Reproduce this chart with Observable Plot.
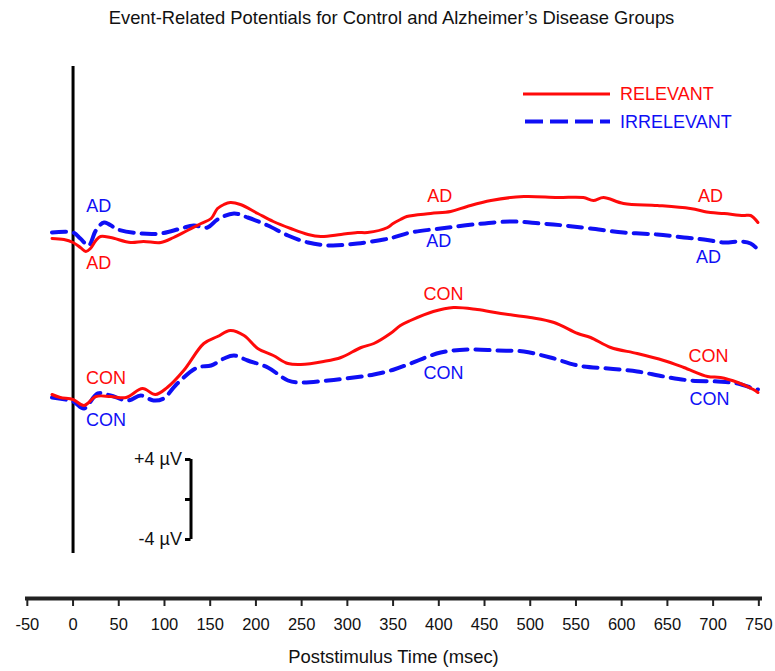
<!DOCTYPE html>
<html>
<head>
<meta charset="utf-8">
<script src="https://cdn.jsdelivr.net/npm/d3@7"></script>
<script src="https://cdn.jsdelivr.net/npm/@observablehq/plot@0.6"></script>
<style>
  body { margin: 0; background: #fff; font-family: "Liberation Sans", Arial, sans-serif; }
  #wrap { position: relative; width: 775px; height: 671px; overflow: hidden; }
  #title { position: absolute; left: 4px; top: 8px; width: 775px; text-align: center; font-size: 18.4px; line-height: 20px; color: #111; }
  #xlabel { position: absolute; left: 25px; top: 647px; width: 737px; text-align: center; font-size: 18.4px; line-height: 20px; color: #111; }
  #legend { position: absolute; left: 515px; top: 75px; }
</style>
</head>
<body>
<div id="wrap">
  <div id="chart"></div>
  <div id="title"></div>
  <div id="xlabel"></div>
  <div id="legend"></div>
</div>
<script>
// ---------- text ----------
const titleText = "Event-Related Potentials for Control and Alzheimer’s Disease Groups";
const xLabelText = "Poststimulus Time (msec)";
const legendLabels = ["RELEVANT", "IRRELEVANT"];
const xTicks = [-50, 0, 50, 100, 150, 200, 250, 300, 350, 400, 450, 500, 550, 600, 650, 700, 750];

// ---------- data (µV relative to each group's baseline; time in msec) ----------
const adRelevantTime = [-23, -10, 0, 8, 14, 19, 25, 30, 41, 63, 77, 96, 110, 125, 140, 151, 158, 165, 172, 183, 202, 219, 238, 257, 271, 293, 311, 322, 344, 350, 358, 365, 391, 413, 431, 457, 493, 530, 558, 569, 580, 602, 639, 675, 697, 712, 733, 741, 749];
const adRelevantUv   = [-0.3, -0.4, -0.7, -1.2, -1.6, -1.3, -0.5, -0.1, -0.2, -0.7, -0.6, -0.7, -0.2, 0.5, 1.2, 1.7, 2.7, 3.1, 3.3, 3.1, 2.2, 1.4, 0.7, 0.1, -0.1, 0.1, 0.3, 0.3, 0.8, 1.2, 1.6, 1.9, 2.2, 2.4, 2.9, 3.5, 3.9, 3.8, 3.8, 3.5, 3.8, 3.2, 3.0, 2.7, 2.3, 2.2, 2.0, 2.0, 1.3];

const adIrrelevantTime = [-23, 0, 8, 17, 25, 34, 49, 74, 96, 118, 132, 147, 158, 176, 191, 213, 235, 257, 282, 311, 340, 350, 369, 402, 438, 479, 511, 537, 566, 602, 639, 668, 690, 712, 730, 741, 749];
const adIrrelevantUv   = [0.3, 0.3, -0.3, -1.0, 0.5, 1.3, 0.6, 0.2, 0.2, 0.7, 1.0, 0.8, 1.6, 2.2, 1.8, 1.0, 0.0, -0.7, -1.0, -0.8, -0.4, -0.2, 0.3, 0.7, 1.1, 1.4, 1.2, 1.0, 0.7, 0.3, 0.1, -0.2, -0.4, -0.7, -0.6, -0.8, -1.4];

const conRelevantTime = [-23, -14, 0, 12, 25, 41, 58, 76, 90, 103, 121, 143, 158, 172, 187, 202, 219, 235, 249, 274, 293, 315, 329, 347, 358, 369, 394, 416, 442, 468, 500, 526, 552, 566, 588, 617, 646, 668, 694, 708, 727, 744, 749];
const conRelevantUv   = [0.3, 0.0, -0.2, -0.8, 0.1, 0.1, 0.0, 0.9, 0.3, 1.0, 2.7, 5.4, 6.1, 6.7, 6.2, 4.9, 4.2, 3.4, 3.3, 3.6, 4.0, 5.0, 5.4, 6.4, 7.2, 7.7, 8.6, 9.0, 8.8, 8.4, 8.0, 7.5, 6.4, 6.0, 5.0, 4.4, 3.7, 3.0, 2.1, 2.0, 1.5, 0.8, 0.5];

const conIrrelevantTime = [-23, 0, 12, 27, 41, 60, 74, 88, 99, 114, 136, 151, 165, 176, 191, 213, 235, 249, 279, 307, 329, 351, 369, 402, 432, 464, 493, 522, 552, 585, 617, 646, 675, 705, 727, 744, 749];
const conIrrelevantUv   = [0.0, -0.4, -1.1, 0.4, 0.2, -0.3, 0.2, -0.3, -0.1, 1.4, 3.0, 3.2, 3.9, 4.2, 3.7, 3.0, 1.7, 1.5, 1.7, 2.0, 2.3, 2.8, 3.4, 4.5, 4.8, 4.7, 4.6, 4.0, 3.2, 2.9, 2.6, 2.1, 1.7, 1.6, 1.4, 0.9, 0.8];

// vertical stacking offset of each group's baseline (µV, relative to scale-bar centre)
const groupOffset = { AD: 26.4, CON: 10.2 };

// trace labels: group, condition, time, µV relative to group baseline
const labelGroup     = ["AD", "AD", "AD", "AD", "AD", "AD", "CON", "CON", "CON", "CON", "CON", "CON"];
const labelCondition = ["IRRELEVANT", "RELEVANT", "RELEVANT", "IRRELEVANT", "RELEVANT", "IRRELEVANT", "RELEVANT", "IRRELEVANT", "RELEVANT", "IRRELEVANT", "RELEVANT", "IRRELEVANT"];
const labelTime      = [28, 28, 401, 400, 697, 695, 36, 36, 405, 405, 695, 696];
const labelUv        = [2.9, -2.8, 3.9, -0.6, 3.9, -2.2, 1.95, -2.3, 10.3, 2.45, 4.15, -0.2];

// calibration bar (µV) and stimulus onset marker
const scaleBarTime = 129;
const scaleBarValues = [4, 0, -4];
const scaleBarLabels = ["+4 µV", "", "-4 µV"];
const onsetTime = 0;
const onsetExtent = [-5.4, 43.3];

const colors = { RELEVANT: "#ff0a0a", IRRELEVANT: "#0f0ff5" };
const yDomain = [-9.9, 45];

// ---------- build tables ----------
function series(group, condition, times, values) {
  return times.map((t, i) => ({ group, condition, time: t, uv: groupOffset[group] + values[i] }));
}
const relevant = [
  ...series("AD", "RELEVANT", adRelevantTime, adRelevantUv),
  ...series("CON", "RELEVANT", conRelevantTime, conRelevantUv)
];
const irrelevant = [
  ...series("AD", "IRRELEVANT", adIrrelevantTime, adIrrelevantUv),
  ...series("CON", "IRRELEVANT", conIrrelevantTime, conIrrelevantUv)
];
const labels = labelGroup.map((g, i) => ({
  text: g, condition: labelCondition[i], time: labelTime[i], uv: groupOffset[g] + labelUv[i]
}));
const scaleBar = scaleBarValues.map((v, i) => ({ v, label: scaleBarLabels[i] }));

const font = '"Liberation Sans", Arial, sans-serif';

const chart = Plot.plot({
  width: 775,
  height: 671,
  marginLeft: 25,
  marginRight: 13,
  marginTop: 49,
  marginBottom: 73,
  x: { domain: [-52, 754] },
  y: { domain: yDomain, axis: null },
  style: { fontFamily: font, fontSize: "16px", background: "white", color: "#111" },
  marks: [
    Plot.ruleY([yDomain[0]], { stroke: "#222", strokeWidth: 4 }),
    Plot.axisX({ ticks: xTicks, tickFormat: d => String(d), tickSize: 8, tickPadding: 12, strokeWidth: 2, stroke: "#222", fill: "#111", fontSize: 16.5, label: null }),
    Plot.ruleX([onsetTime], { y1: onsetExtent[0], y2: onsetExtent[1], stroke: "black", strokeWidth: 3 }),
    Plot.ruleX([scaleBarTime], { y1: scaleBarValues[2], y2: scaleBarValues[0], stroke: "black", strokeWidth: 3 }),
    Plot.ruleY(scaleBar, { y: "v", x1: scaleBarTime - 6, x2: scaleBarTime, stroke: "black", strokeWidth: 3 }),
    Plot.text(scaleBar, { x: () => scaleBarTime, y: "v", text: "label", textAnchor: "end", dx: -9, fontSize: 18, fill: "#111" }),
    Plot.line(irrelevant, { x: "time", y: "uv", z: "group", stroke: colors.IRRELEVANT, strokeWidth: 4, strokeDasharray: "14,8", curve: "catmull-rom" }),
    Plot.line(relevant, { x: "time", y: "uv", z: "group", stroke: colors.RELEVANT, strokeWidth: 3, curve: "catmull-rom" }),
    Plot.text(labels, { x: "time", y: "uv", text: "text", fill: d => colors[d.condition], fontSize: 18 })
  ]
});
document.getElementById("chart").appendChild(chart);
document.getElementById("title").textContent = titleText;
document.getElementById("xlabel").textContent = xLabelText;

// ---------- legend ----------
const leg = d3.select("#legend").append("svg").attr("width", 250).attr("height", 60)
  .style("font-family", font);
legendLabels.forEach((lab, i) => {
  const yy = 19 + i * 27.5;
  leg.append("line").attr("x1", i ? 10 : 8).attr("x2", 95).attr("y1", yy).attr("y2", yy)
    .attr("stroke", colors[lab]).attr("stroke-width", i ? 4 : 3)
    .attr("stroke-dasharray", i ? "18,7" : null);
  leg.append("text").attr("x", 105).attr("y", yy).attr("dy", "0.35em")
    .attr("font-size", 18).attr("fill", colors[lab]).text(lab);
});
</script>
</body>
</html>
